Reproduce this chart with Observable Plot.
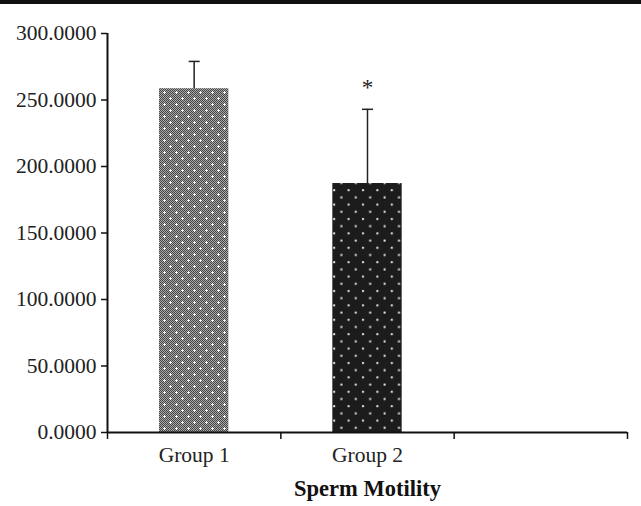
<!DOCTYPE html>
<html>
<head>
<meta charset="utf-8">
<script src="https://cdn.jsdelivr.net/npm/d3@7"></script>
<script src="https://cdn.jsdelivr.net/npm/@observablehq/plot@0.6"></script>
<style>
  html, body { margin: 0; padding: 0; background: #fff; }
  #wrap { position: relative; width: 641px; height: 506px; }
  #topline { position: absolute; left: 0; top: 0; width: 641px; height: 4px; background: #111; }
</style>
</head>
<body>
<div id="wrap"><div id="topline"></div></div>
<script>
// ---- data ----
const categories = ["Group 1", "Group 2", ""];
const means = [258.5, 187.2];
const upper = [279, 243];
const significance = ["", "*"];
const yTicks = [0, 50, 100, 150, 200, 250, 300];
const xLabel = "Sperm Motility";

const data = means.map((m, i) => ({
  group: categories[i], idx: i, mean: m, upper: upper[i], sig: significance[i]
}));

const fills = ["url(#pat-g1)", "url(#pat-g2)"];

// horizontal-line symbol for error-bar caps
const capSymbol = {
  draw(ctx, size) {
    const r = Math.sqrt(size / Math.PI);
    ctx.moveTo(-r, 0);
    ctx.lineTo(r, 0);
  }
};

const chart = Plot.plot({
  width: 641,
  height: 506,
  marginTop: 33,
  marginBottom: 74,
  marginLeft: 107,
  marginRight: 14,
  style: { fontFamily: "'Liberation Serif', 'Times New Roman', serif", fontSize: "21.5px", color: "#222", background: "transparent" },
  x: { type: "linear", domain: [0, categories.length] },
  y: { domain: [0, 300] },
  marks: [
    // bars
    ...data.map((d, i) => Plot.rectY([d], {
      x1: e => e.idx, x2: e => e.idx + 1, y1: 0, y2: "mean",
      insetLeft: 52, insetRight: 52, fill: fills[i]
    })),
    // error bars
    Plot.ruleX(data, { x: d => d.idx + 0.5, y1: "mean", y2: "upper", stroke: "#222", strokeWidth: 1.5 }),
    Plot.dot(data, { x: d => d.idx + 0.5, y: "upper", symbol: capSymbol, r: 5.5, stroke: "#222", strokeWidth: 1.5, fill: "none" }),
    // significance marker
    Plot.text(data.filter(d => d.sig), { x: d => d.idx + 0.5, y: "upper", text: "sig", dy: -22, fontSize: 23, fill: "#222" }),
    // axes
    Plot.ruleX([0], { y1: 0, y2: 300, stroke: "#111", strokeWidth: 2 }),
    Plot.ruleY([0], { stroke: "#111", strokeWidth: 2 }),
    Plot.axisY({ ticks: yTicks, tickFormat: d => d.toFixed(4), tickSize: 6, tickPadding: 5, label: null, stroke: "#111", strokeWidth: 1.5 }),
    Plot.axisX({ ticks: d3.range(categories.length + 1), tickFormat: () => "", tickSize: 7, label: null, stroke: "#111", strokeWidth: 1.5 }),
    Plot.axisX({ ticks: d3.range(categories.length).map(i => i + 0.5), tickFormat: v => categories[Math.floor(v)], tickSize: 0, tickPadding: 14, label: null }),
    Plot.text([xLabel], { frameAnchor: "bottom", dy: 63, fontWeight: "bold", fontSize: 22.5, fill: "#111" })
  ]
});

// pattern definitions
const ns = "http://www.w3.org/2000/svg";
const defs = document.createElementNS(ns, "defs");
defs.innerHTML = `
  <pattern id="checker" width="2" height="2" patternUnits="userSpaceOnUse">
    <rect width="2" height="2" fill="#aaaaaa"/>
    <rect width="1" height="1" fill="#444444"/>
    <rect x="1" y="1" width="1" height="1" fill="#444444"/>
  </pattern>
  <pattern id="pat-g1" width="12" height="12" patternUnits="userSpaceOnUse">
    <rect width="12" height="12" fill="url(#checker)"/>
    <rect x="2" y="1" width="1" height="3" fill="#f8f8f8"/>
    <rect x="1" y="2" width="3" height="1" fill="#f8f8f8"/>
    <rect x="8" y="7" width="1" height="3" fill="#f8f8f8"/>
    <rect x="7" y="8" width="3" height="1" fill="#f8f8f8"/>
  </pattern>
  <pattern id="pat-g2" width="14.4" height="14.4" patternUnits="userSpaceOnUse">
    <rect width="14.4" height="14.4" fill="#1c1c1c"/>
    <rect x="2" y="2" width="2" height="2" fill="#e6e6e6"/>
    <rect x="9.2" y="9.2" width="2" height="2" fill="#e6e6e6"/>
  </pattern>`;
chart.insertBefore(defs, chart.firstChild);
chart.style.position = "absolute";
chart.style.left = "0";
chart.style.top = "0";
document.getElementById("wrap").appendChild(chart);
</script>
</body>
</html>
